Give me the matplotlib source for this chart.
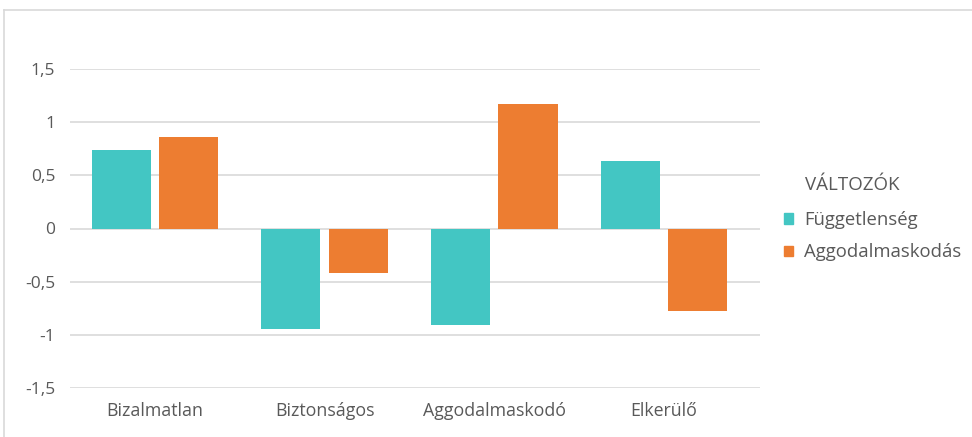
import matplotlib
matplotlib.use("Agg")
import matplotlib.pyplot as plt
from matplotlib.lines import Line2D
from matplotlib.patches import Patch
import numpy as np

categories = ["Bizalmatlan", "Biztonságos", "Aggodalmaskodó", "Elkerülő"]
fuggetlenseg = [0.744, -0.948, -0.911, 0.640]
aggodalmaskodas = [0.866, -0.418, 1.177, -0.779]
series_names = ["Függetlenség", "Aggodalmaskodás"]
legend_title = "VÁLTOZÓK"
yticks = [-1.5, -1.0, -0.5, 0.0, 0.5, 1.0, 1.5]

teal = "#43C6C3"
orange = "#ED7D31"
txt = "#595959"
grid = "#D9D9D9"

plt.rcParams['font.family'] = ['Open Sans', 'DejaVu Sans']

W, H = 972, 437
fig = plt.figure(figsize=(W / 100, H / 100), dpi=100)
ax = fig.add_axes([70 / W, 1 - 387.7 / H, 690 / W, (387.7 - 69.3) / H])

x = np.arange(len(categories))
bw = 0.348
off = 0.199
ax.bar(x - off, fuggetlenseg, bw, color=teal, label=series_names[0], zorder=3)
ax.bar(x + off, aggodalmaskodas, bw, color=orange, label=series_names[1], zorder=3)

ax.set_xlim(-0.5, 3.566)
ax.set_ylim(-1.5, 1.5)
ax.set_yticks(yticks)
ax.set_yticklabels([("%g" % v).replace(".", ",") for v in yticks])
ax.set_xticks(x)
ax.set_xticklabels(categories)
ax.tick_params(axis='both', length=0, colors=txt)
ax.tick_params(axis='y', pad=10.5, labelsize=12.5)
ax.tick_params(axis='x', pad=10, labelsize=12.8)
for s in ax.spines.values():
    s.set_visible(False)
ax.grid(axis='y', color=grid, linewidth=1.2, zorder=0)
ax.set_axisbelow(True)

# outer chart border (partially visible)
fig.add_artist(Line2D([4 / W, 1.0], [1 - 10 / H, 1 - 10 / H], color=grid, lw=1.2, transform=fig.transFigure))
fig.add_artist(Line2D([4 / W, 4 / W], [0, 1 - 10 / H], color=grid, lw=1.2, transform=fig.transFigure))

fig.text(805 / W, 1 - 185 / H, legend_title, color=txt, fontsize=13.5,
         ha='left', va='center')
handles = [Patch(color=teal), Patch(color=orange)]
leg = fig.legend(handles, series_names, loc='upper left',
                 bbox_to_anchor=(784 / W, 1 - 211 / H), frameon=False,
                 prop={'size': 13.3},
                 handlelength=0.5, handleheight=0.5,
                 handletextpad=0.6, labelspacing=0.78, labelcolor=txt, borderaxespad=0,
                 borderpad=0)

fig.savefig("out.png", dpi=100)
